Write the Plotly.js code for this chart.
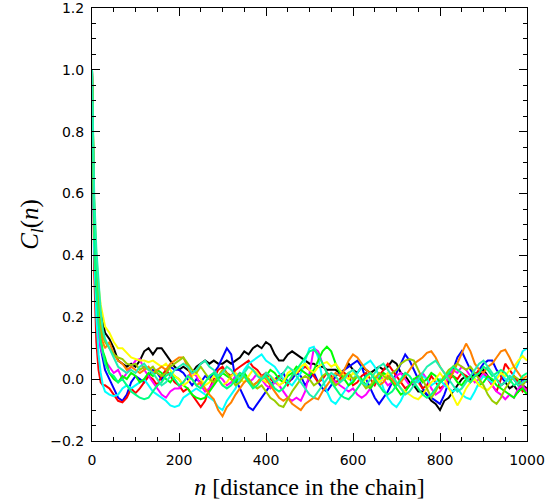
<!DOCTYPE html>
<html>
<head>
<meta charset="utf-8">
<script src="https://cdn.plot.ly/plotly-3.0.1.min.js"></script>
<style>html,body{margin:0;padding:0;background:#fff;}#chart{width:548px;height:503px;}</style>
</head>
<body>
<div id="chart"></div>
<script>
// distance in the chain (sample grid)
const nHead = [0, 5, 10, 15, 20, 25, 30];
const nTail = Array.from({length: 97}, (_, i) => 40 + 10 * i);
const nGrid = nHead.concat(nTail);

// autocorrelation C_l(n) for each chain
const cBlack = [1, 0.55, 0.38, 0.28, 0.22, 0.18, 0.15,
  0.13, 0.1, 0.06, 0.05, 0.04, 0.05, 0.04, 0.06, 0.09, 0.1,
  0.08, 0.1, 0.1, 0.08, 0.06, 0.04, 0.03, 0.04, 0.03, 0.02,
  0.04, 0.05, 0.06, 0.05, 0.06, 0.05, 0.05, 0.06, 0.05, 0.06,
  0.07, 0.09, 0.08, 0.1, 0.11, 0.1, 0.12, 0.11, 0.08, 0.06,
  0.06, 0.08, 0.09, 0.08, 0.07, 0.06, 0.05, 0.05, 0.04, 0.04,
  0.03, 0.03, 0.03, 0.02, 0.03, 0.05, 0.03, 0.02, 0.04, 0.03,
  0.02, 0.03, 0.04, 0.03, 0.04, 0.06, 0.05, 0.02, 0.01, -0.01,
  -0.02, -0.04, -0.04, -0.05, -0.07, -0.08, -0.1, -0.07, -0.06, -0.04,
  -0.02, 0.0, 0.01, 0.0, 0.02, 0.01, 0.03, 0.01, -0.01, 0.0,
  -0.02, -0.01, -0.03, -0.02, -0.04, -0.02, -0.03];
const cBlue = [1, 0.48, 0.28, 0.16, 0.1, 0.06, 0.03,
  0.0, -0.03, -0.06, -0.07, -0.05, -0.01, 0.01, 0.0, -0.01, 0.01,
  0.03, 0.02, 0.0, 0.02, 0.04, 0.03, 0.03, 0.02, 0.0, -0.02,
  0.0, -0.01, 0.01, 0.0, 0.02, 0.04, 0.07, 0.1, 0.08, 0.0,
  -0.03, -0.06, -0.09, -0.1, -0.08, -0.06, -0.04, -0.02, 0.0, 0.01,
  0.02, -0.01, 0.0, 0.02, 0.01, -0.02, 0.0, 0.02, -0.01, -0.03,
  -0.04, -0.02, 0.01, 0.02, 0.03, 0.04, 0.05, 0.06, 0.04, 0.0,
  -0.03, -0.06, -0.08, -0.06, -0.04, -0.01, 0.02, 0.05, 0.08, 0.06,
  0.03, 0.0, -0.03, -0.05, -0.06, -0.07, -0.08, -0.05, -0.01, 0.03,
  0.07, 0.09, 0.06, 0.03, 0.01, 0.03, 0.05, 0.06, 0.06, 0.03,
  0.01, -0.01, 0.01, 0.0, -0.02, 0.0, -0.01];
const cRed = [1, 0.35, 0.12, 0.03, -0.01, -0.02, -0.02,
  -0.03, -0.05, -0.07, -0.075, -0.06, -0.03, -0.045, -0.03, -0.01, 0.01,
  0.0, -0.02, 0.01, 0.03, 0.01, -0.01, -0.02, -0.04, -0.03, -0.05,
  -0.07, -0.09, -0.07, -0.03, 0.0, 0.03, 0.04, 0.02, 0.01, 0.03,
  0.04, 0.05, 0.06, 0.04, 0.03, 0.01, 0.02, 0.0, -0.01, 0.01,
  0.0, -0.02, 0.01, 0.02, 0.03, 0.04, 0.03, 0.01, -0.01, 0.0,
  0.02, 0.01, -0.01, 0.0, 0.02, 0.01, -0.02, -0.01, 0.01, 0.02,
  0.0, -0.02, 0.01, 0.03, 0.05, 0.03, 0.01, -0.01, -0.03, -0.02,
  0.0, -0.01, -0.03, -0.02, 0.01, -0.01, -0.03, -0.02, 0.0, 0.01,
  0.0, 0.02, 0.01, -0.01, 0.01, 0.03, 0.02, 0.0, -0.02, -0.04,
  0.0, 0.05, 0.03, 0.01, -0.01, -0.04, -0.03];
const cMagenta = [1, 0.45, 0.25, 0.15, 0.1, 0.08, 0.06,
  0.04, 0.02, 0.03, 0.0, 0.02, 0.04, 0.06, 0.065, 0.03, 0.01,
  -0.01, -0.03, -0.05, -0.06, -0.04, -0.03, -0.03, -0.01, 0.01, 0.02,
  0.01, -0.02, -0.04, -0.03, -0.01, 0.01, 0.0, -0.02, -0.01, 0.01,
  0.02, 0.01, -0.01, 0.0, 0.02, 0.0, -0.02, -0.03, -0.01, -0.02,
  -0.04, -0.06, -0.07, -0.06, -0.07, -0.04, 0.02, 0.1, 0.09, 0.05,
  0.02, 0.0, -0.01, -0.02, -0.03, -0.04, -0.03, -0.05, -0.06, -0.05,
  -0.03, -0.01, 0.01, 0.0, -0.02, -0.01, 0.01, 0.02, 0.0, -0.02,
  -0.01, 0.01, 0.02, 0.0, -0.03, -0.05, -0.04, -0.02, 0.01, 0.03,
  0.02, 0.04, 0.03, 0.01, -0.01, 0.0, 0.02, 0.01, -0.02, -0.04,
  -0.05, -0.065, -0.05, -0.06, -0.03, -0.02, -0.04];
const cCyan = [1, 0.42, 0.2, 0.08, 0.02, -0.02, -0.04,
  -0.05, -0.055, -0.05, -0.03, -0.02, -0.03, -0.02, -0.01, 0.0, -0.02,
  -0.04, -0.05, -0.06, -0.07, -0.085, -0.09, -0.085, -0.06, -0.05, -0.04,
  -0.03, -0.04, -0.05, -0.06, -0.07, -0.09, -0.1, -0.07, -0.05, -0.03,
  0.0, 0.03, 0.05, 0.06, 0.07, 0.08, 0.06, 0.05, 0.04, 0.02,
  0.0, -0.01, -0.02, 0.0, 0.02, 0.06, 0.1, 0.105, 0.07, 0.0,
  -0.04, -0.07, -0.08, -0.06, -0.04, -0.02, 0.0, 0.02, 0.04, 0.05,
  0.06, 0.04, 0.01, -0.03, -0.06, -0.08, -0.09, -0.07, -0.04, -0.02,
  0.0, -0.01, 0.01, 0.0, -0.02, -0.01, 0.0, -0.02, -0.03, -0.04,
  -0.03, -0.05, -0.06, -0.065, -0.04, -0.01, 0.01, 0.0, -0.01, 0.01,
  0.02, 0.0, -0.01, 0.02, 0.05, 0.09, 0.1];
const cGreen = [1, 0.5, 0.3, 0.2, 0.13, 0.09, 0.07,
  0.02, 0.0, -0.01, 0.01, 0.0, 0.02, 0.01, -0.01, 0.0, 0.02,
  0.01, 0.03, 0.02, 0.0, -0.01, 0.01, 0.0, -0.02, -0.03, -0.05,
  -0.06, -0.065, -0.06, -0.04, -0.02, 0.0, 0.02, 0.01, 0.0, -0.01,
  0.01, 0.02, 0.0, -0.02, -0.01, 0.0, 0.01, 0.03, 0.02, 0.0,
  -0.01, 0.01, 0.02, 0.04, 0.03, 0.02, 0.01, 0.03, 0.06, 0.09,
  0.105, 0.09, 0.05, 0.02, 0.0, -0.02, -0.01, 0.01, 0.0, -0.02,
  -0.03, -0.01, 0.0, 0.02, 0.01, -0.01, -0.03, -0.05, -0.04, -0.02,
  0.0, 0.01, -0.01, 0.0, 0.02, 0.01, -0.01, 0.0, 0.02, 0.01,
  -0.01, -0.02, 0.0, 0.01, 0.0, -0.02, -0.01, 0.01, 0.0, -0.02,
  -0.03, -0.04, -0.05, -0.06, -0.04, -0.03, -0.05];
const cYellow = [1, 0.58, 0.4, 0.3, 0.24, 0.2, 0.17,
  0.15, 0.12, 0.1, 0.1, 0.085, 0.07, 0.065, 0.06, 0.06, 0.055,
  0.06, 0.05, 0.04, 0.05, 0.03, 0.01, 0.0, -0.02, -0.01, 0.01,
  0.02, 0.0, -0.02, -0.01, 0.01, 0.0, -0.02, -0.01, 0.01, 0.02,
  0.0, -0.01, 0.01, 0.03, 0.02, 0.0, -0.01, 0.01, 0.0, -0.02,
  -0.01, 0.02, 0.03, 0.02, 0.04, 0.05, 0.03, 0.02, 0.04, 0.05,
  0.055, 0.04, 0.05, 0.03, 0.01, 0.0, 0.02, 0.01, -0.01, 0.0,
  0.02, 0.01, -0.01, 0.0, 0.02, 0.01, -0.01, -0.03, -0.04, -0.05,
  -0.06, -0.065, -0.05, -0.03, -0.01, 0.0, 0.02, 0.0, -0.03, -0.06,
  -0.085, -0.06, -0.03, -0.01, 0.0, -0.02, -0.03, -0.035, -0.02, 0.0,
  0.02, 0.01, 0.03, 0.04, 0.06, 0.075, 0.06];
const cOrange = [1, 0.52, 0.33, 0.22, 0.16, 0.12, 0.1,
  0.12, 0.08, 0.06, 0.05, 0.03, 0.04, 0.03, 0.02, 0.03, 0.04,
  0.02, 0.03, 0.04, 0.03, 0.05, 0.06, 0.07, 0.07, 0.04, 0.0,
  -0.02, -0.01, -0.03, -0.05, -0.065, -0.1, -0.12, -0.09, -0.075, -0.05,
  -0.03, -0.01, 0.0, -0.02, -0.01, 0.01, 0.0, -0.02, -0.04, -0.06,
  -0.07, -0.06, -0.08, -0.09, -0.1, -0.08, -0.07, -0.06, -0.065, -0.04,
  -0.02, 0.0, 0.02, 0.01, 0.03, 0.06, 0.08, 0.07, 0.05, 0.03,
  0.02, 0.0, -0.02, -0.01, 0.01, 0.0, -0.02, -0.01, 0.01, 0.03,
  0.05, 0.06, 0.07, 0.085, 0.09, 0.07, 0.04, 0.02, 0.0, 0.02,
  0.05, 0.08, 0.115, 0.09, 0.05, 0.03, 0.02, 0.04, 0.05, 0.07,
  0.09, 0.095, 0.07, 0.04, 0.02, 0.0, 0.01];
const cYellowGreen = [1, 0.55, 0.35, 0.25, 0.18, 0.14, 0.12,
  0.1, 0.08, 0.07, 0.065, 0.05, 0.045, 0.05, 0.03, 0.04, 0.03,
  0.04, 0.02, 0.01, 0.02, 0.04, 0.05, 0.06, 0.07, 0.05, 0.03,
  0.02, 0.04, 0.02, 0.0, -0.01, 0.01, 0.03, 0.02, 0.0, -0.02,
  -0.01, 0.01, 0.0, -0.02, -0.03, -0.02, -0.04, -0.06, -0.07, -0.085,
  -0.09, -0.065, -0.04, -0.02, 0.0, 0.01, 0.0, -0.02, -0.01, 0.01,
  0.02, 0.0, -0.02, -0.01, 0.01, 0.02, 0.0, 0.01, -0.01, -0.03,
  -0.02, 0.0, 0.02, 0.01, 0.0, 0.02, 0.03, 0.05, 0.06, 0.065,
  0.06, 0.03, 0.0, -0.03, -0.06, -0.04, -0.01, 0.01, 0.03, 0.04,
  0.05, 0.04, 0.03, 0.04, 0.02, 0.0, -0.02, -0.05, -0.07, -0.08,
  -0.06, -0.03, -0.01, 0.01, 0.0, -0.02, 0.0];
const cSpringGreen = [1, 0.5, 0.3, 0.18, 0.12, 0.08, 0.05,
  0.02, 0.01, -0.01, 0.0, -0.02, -0.04, -0.05, -0.06, -0.065, -0.06,
  -0.04, -0.02, -0.01, 0.01, 0.02, 0.0, -0.02, -0.01, 0.01, 0.0,
  -0.02, -0.03, -0.01, 0.01, 0.02, 0.0, -0.02, -0.03, -0.02, 0.0,
  0.02, 0.01, -0.01, -0.03, -0.02, 0.0, 0.01, -0.01, -0.03, -0.04,
  -0.03, -0.01, 0.01, 0.03, 0.05, 0.07, 0.09, 0.095, 0.08, 0.05,
  0.02, -0.01, -0.03, -0.05, -0.06, -0.065, -0.05, -0.03, -0.01, 0.01,
  0.02, 0.0, -0.02, -0.04, -0.05, -0.04, -0.02, 0.0, 0.02, 0.01,
  -0.01, -0.03, -0.05, -0.06, -0.05, -0.03, -0.01, 0.0, 0.02, 0.04,
  0.03, 0.02, 0.0, -0.01, 0.01, 0.02, 0.04, 0.03, 0.01, 0.02,
  0.03, 0.02, 0.0, -0.02, -0.01, 0.01, 0.02];
const cAquamarine = [1, 0.6, 0.42, 0.3, 0.22, 0.16, 0.13,
  0.1, 0.07, 0.04, 0.03, 0.02, 0.03, 0.02, 0.04, 0.05, 0.03,
  0.02, 0.0, -0.02, -0.01, 0.01, 0.03, 0.04, 0.05, 0.04, 0.02,
  0.03, 0.05, 0.06, 0.04, 0.03, 0.01, 0.02, 0.04, 0.03, 0.01,
  0.0, 0.02, 0.04, 0.03, 0.01, 0.0, 0.02, 0.01, -0.01, 0.0,
  0.02, 0.04, 0.03, 0.01, -0.01, -0.03, -0.05, -0.06, -0.04, -0.02,
  0.0, 0.02, 0.01, -0.01, 0.0, 0.02, 0.03, 0.01, -0.01, -0.02,
  0.0, 0.02, 0.04, 0.05, 0.03, 0.01, -0.01, -0.03, -0.05, -0.04,
  -0.02, 0.0, 0.02, 0.04, 0.05, 0.06, 0.04, 0.02, 0.0, -0.02,
  -0.04, -0.03, -0.01, 0.01, 0.03, 0.05, 0.06, 0.04, 0.02, 0.0,
  -0.02, -0.01, 0.01, 0.0, -0.02, -0.01, 0.0];

const seriesList = [cBlack, cBlue, cRed, cMagenta, cCyan, cGreen, cYellow, cOrange, cYellowGreen, cSpringGreen, cAquamarine];
const seriesColors = ['#000000', '#0000ff', '#ff0000', '#ff00ff', '#00ffff', '#00ff00', '#ffff00', '#ff8000', '#99cc00', '#00ff80', '#20f0b0'];

const yTickVals = [-0.2, 0.0, 0.2, 0.4, 0.6, 0.8, 1.0, 1.2];
const yTickText = ['\u22120.2', '0.0', '0.2', '0.4', '0.6', '0.8', '1.0', '1.2'];

const traces = seriesList.map((vals, i) => ({
  x: nGrid, y: vals, type: 'scatter', mode: 'lines',
  line: {color: seriesColors[i], width: 2},
  showlegend: false, hoverinfo: 'skip'
}));

const axisCommon = {
  showgrid: false, zeroline: false, showline: true, linecolor: '#000', linewidth: 1,
  mirror: 'allticks', ticks: 'inside', ticklen: 8, tickwidth: 1, tickcolor: '#000',
  ticklabeloverflow: 'allow',
  tickfont: {family: 'DejaVu Sans', size: 14, color: '#000'}
};

const layout = {
  width: 548, height: 503,
  margin: {l: 92, r: 21, t: 8, b: 62},
  paper_bgcolor: '#fff', plot_bgcolor: '#fff',
  xaxis: Object.assign({}, axisCommon, {
    range: [0, 1000], tickmode: 'linear', tick0: 0, dtick: 200,
    minor: {ticks: 'inside', ticklen: 4, dtick: 50, tick0: 0, tickcolor: '#000', tickwidth: 1, showgrid: false},
    ticklabelstandoff: 6,
    title: {text: '<i>n</i> [distance in the chain]', font: {family: 'Liberation Serif', size: 24, color: '#000'}, standoff: 11}
  }),
  yaxis: Object.assign({}, axisCommon, {
    range: [-0.2, 1.2], tickmode: 'array', tickvals: yTickVals, ticktext: yTickText,
    minor: {ticks: 'inside', ticklen: 4, dtick: 0.05, tick0: 0, tickcolor: '#000', tickwidth: 1, showgrid: false},
    ticklabelstandoff: 4,
    title: {text: '<i>C</i><sub><i>l</i></sub>(<i>n</i>)', font: {family: 'Liberation Serif', size: 25, color: '#000'}, standoff: 4}
  })
};

Plotly.newPlot('chart', traces, layout, {displayModeBar: false, staticPlot: true});
</script>
</body>
</html>
